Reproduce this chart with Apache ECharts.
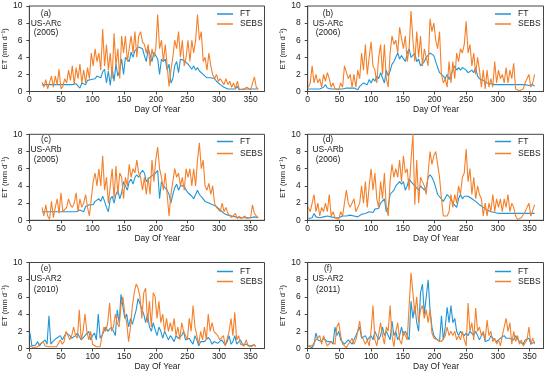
<!DOCTYPE html>
<html><head><meta charset="utf-8">
<script src="https://cdn.jsdelivr.net/npm/echarts@6/dist/echarts.min.js"></script>
<style>html,body{margin:0;padding:0;background:#fff}#c{width:550px;height:375px}</style>
</head><body><div id="c"></div><script>
const daysA=[20,23,26,29,32,35,38,41,44,47,50,53,56,59,62,65,68,71,74,77,80,83,86,89,92,95,98,101,104,107,110,113,116,119,122,125,128,131,134,137,140,143,146,149,152,155,158,161,164,167,170,173,176,179,182,185,188,191,194,197,200,203,206,209,212,215,218,221,224,227,230,233,236,239,242,245,248,251,254,257,260,263,266,269,272,275,278,281,284,287,290,293,296,299,302,305,308,311,314,317,320,323,326,329,332,335,338,341,344,347,350,353,356,359,362];
const daysB=[1,4,7,10,13,16,19,22,25,28,31,34,37,40,43,46,49,52,55,58,61,64,67,70,73,76,79,82,85,88,91,94,97,100,103,106,109,112,115,118,121,124,127,130,133,136,139,142,145,148,151,154,157,160,163,166,169,172,175,178,181,184,187,190,193,196,199,202,205,208,211,214,217,220,223,226,229,232,235,238,241,244,247,250,253,256,259,262,265,268,271,274,277,280,283,286,289,292,295,298,301,304,307,310,313,316,319,322,325,328,331,334,337,340,343,346,349,352,355,358];

const aFT=[0.8,0.8,0.8,0.8,0.8,0.8,0.8,0.8,0.8,0.8,
0.8,0.8,0.8,0.8,0.8,0.8,0.8,0.9,0.9,0.9,
0.4,1.0,1.2,0.8,1.3,1.5,1.4,1.6,1.5,1.8,
2.0,1.6,2.3,2.6,1.0,2.4,0.7,2.8,1.2,3.2,
1.8,2.5,3.8,2.0,4.0,4.2,3.5,4.6,4.0,4.8,
5.0,5.2,5.3,5.0,4.2,3.5,5.0,4.8,3.5,4.6,
4.5,3.8,2.0,3.8,3.5,3.8,2.5,3.2,1.0,1.5,
3.0,3.5,2.2,3.8,4.0,3.6,3.8,3.2,3.3,2.6,
3.0,2.5,2.8,2.4,2.2,2.0,2.0,1.6,1.4,1.6,
1.7,1.5,1.2,1.0,0.8,0.7,0.5,0.4,0.3,0.3,
0.3,0.3,0.3,0.6,0.2,0.2,0.3,0.3,0.3,0.3,
0.3,0.4,0.3,0.3,0.3];
const aSEBS=[1.1,0.5,1.4,0.3,0.1,1.8,0.5,1.8,0.8,2.6,
0.3,0.6,1.5,1.0,2.5,1.3,3.0,0.8,2.8,1.5,
3.2,1.0,2.5,1.0,2.8,1.5,4.5,3.0,5.0,3.5,
4.5,2.5,7.3,3.0,5.5,2.5,4.5,1.5,6.8,3.0,
5.0,1.5,6.5,4.5,6.5,3.5,5.0,6.5,4.5,7.0,
4.0,6.5,7.0,5.8,5.5,4.5,5.5,3.0,5.0,4.0,
5.0,9.0,5.0,6.0,3.5,5.5,3.0,0.6,2.5,4.0,
6.0,5.0,7.0,4.0,6.0,3.0,4.0,6.0,3.5,6.0,
4.5,6.0,9.0,6.0,7.0,3.5,4.0,2.5,4.5,3.0,
2.0,1.5,2.0,1.2,1.5,1.5,0.8,1.5,0.8,1.2,
0.5,1.0,0.3,1.2,0.3,0.5,0.2,0.2,0.5,0.3,
0.2,0.3,1.7,0.5,0.3];

const bFT=[0.3,0.2,0.3,0.4,0.3,0.4,0.3,0.4,0.5,0.8,
0.4,0.3,0.3,0.2,0.3,0.3,0.3,0.4,0.3,0.4,
0.4,0.5,0.4,0.3,0.4,0.5,0.2,0.6,0.8,1.0,
1.2,0.8,1.4,1.0,1.5,1.2,1.8,1.5,2.2,2.0,
1.0,2.5,1.8,2.4,3.2,3.5,4.0,4.5,3.8,4.2,
4.0,3.5,4.5,5.0,4.0,3.8,4.5,3.5,3.8,3.0,
3.2,3.5,4.0,4.2,4.5,4.7,4.2,3.5,2.8,2.2,
2.0,1.8,1.5,2.0,1.4,1.2,2.5,3.0,2.5,2.8,
2.5,2.8,3.0,2.5,2.2,2.0,2.5,2.2,2.8,1.8,
1.5,1.4,1.3,1.2,1.0,1.0,0.9,0.8,0.8,0.8,
0.8,0.8,0.8,0.8,0.8,0.8,0.8,0.8,0.8,0.8,
0.8,0.8,0.8,0.8,0.8,0.8,0.7,0.8,0.8,0.6];
const bSEBS=[0.5,1.0,3.0,1.0,2.0,1.0,1.5,0.5,2.0,1.2,
2.2,1.5,0.5,1.0,0.3,0.5,0.2,1.0,0.5,3.0,
3.2,1.5,2.0,0.5,2.0,0.5,2.5,1.5,4.5,2.5,
5.5,2.0,4.0,5.8,3.0,2.5,1.0,4.0,5.5,2.0,
5.5,1.5,0.5,4.5,6.5,5.5,6.0,4.5,7.5,7.5,
5.0,6.5,3.5,5.0,9.4,6.0,3.5,7.0,4.0,6.5,
3.0,5.0,4.0,3.0,8.5,7.0,8.0,6.0,5.0,7.0,
2.0,1.0,1.5,0.5,3.5,1.0,3.5,1.5,4.5,3.5,
5.0,4.5,5.5,8.2,4.5,5.5,3.0,4.5,2.0,4.0,
2.5,0.5,2.5,0.3,2.5,0.5,1.5,0.5,3.5,1.0,
2.5,1.5,2.0,1.0,2.8,1.0,2.5,1.5,3.3,0.3,
0.1,0.1,0.2,0.3,1.0,1.5,2.0,0.5,1.0,2.0];

const cFT=[1.0,1.0,1.0,1.0,1.0,1.0,1.0,1.0,1.0,1.0,
1.0,1.0,1.0,1.0,1.0,1.0,1.0,1.0,1.0,1.1,
1.2,1.4,1.0,1.6,1.5,1.8,2.0,1.8,2.2,2.0,
2.5,2.2,2.8,2.2,1.5,1.0,2.5,2.8,2.0,3.0,
3.5,2.5,3.2,4.5,4.0,3.5,4.5,4.8,4.2,5.0,
5.3,5.0,5.5,5.8,5.5,4.5,4.8,5.0,5.2,5.0,
5.5,5.8,2.5,4.5,4.0,4.2,3.5,3.0,2.0,3.0,
3.8,4.2,3.5,4.0,3.8,4.0,3.5,3.2,3.0,2.8,
2.5,3.0,3.5,3.0,2.8,2.5,2.2,2.0,2.0,1.9,
1.8,1.7,1.6,1.5,1.2,1.0,0.8,0.7,0.6,0.5,
0.5,0.4,0.4,0.3,0.3,0.3,0.3,0.3,0.3,0.3,
0.3,0.3,0.4,0.3,0.3];
const cSEBS=[1.5,0.5,1.8,0.5,0.1,2.2,0.3,1.5,2.5,0.8,
3.2,1.0,1.2,1.5,2.5,1.8,1.5,2.0,3.2,1.0,
2.5,1.5,2.0,3.0,1.5,0.5,2.5,4.5,5.5,4.0,
6.0,4.0,7.5,3.5,5.0,2.0,4.0,6.0,2.5,6.3,
3.0,5.5,5.0,2.5,5.0,4.0,6.5,5.0,6.0,5.5,
7.0,5.5,5.0,3.5,5.0,3.0,5.0,3.0,7.0,4.5,
7.0,8.5,6.0,5.0,3.5,5.5,3.0,0.5,3.0,4.5,
6.0,5.0,5.5,4.0,5.0,3.5,6.0,5.0,6.0,4.0,
6.0,4.0,7.0,9.0,6.0,7.0,4.0,3.5,4.3,3.0,
4.0,2.0,1.5,1.5,1.0,2.0,1.0,1.5,0.8,1.0,
0.3,0.5,0.8,0.2,0.5,0.2,0.2,0.5,0.2,0.3,
0.3,1.8,0.8,0.5,0.3];

const dFT=[0.2,0.4,0.3,0.8,0.4,0.5,0.3,0.5,0.4,0.3,
0.5,0.3,0.4,0.2,0.3,0.2,0.3,0.4,0.5,0.4,
0.5,0.4,0.6,0.5,0.5,0.6,0.4,0.5,0.7,0.6,
0.8,0.7,1.0,1.2,0.9,1.3,1.5,1.4,2.0,1.8,
2.5,1.0,1.5,3.0,3.2,3.5,4.0,3.8,4.5,4.2,
4.5,3.5,4.0,4.8,4.5,4.6,4.0,4.2,3.5,4.0,
4.0,3.5,3.8,5.0,5.3,5.0,4.5,3.8,3.0,2.8,
2.5,2.2,2.0,3.0,2.8,2.5,2.0,1.8,1.5,2.5,
3.0,2.5,2.8,3.0,2.8,3.0,2.5,2.5,2.2,2.0,
1.8,1.6,1.5,1.3,1.2,1.1,1.0,1.0,0.9,0.8,
0.8,0.8,0.8,0.8,0.8,0.8,0.8,0.8,0.8,0.8,
0.8,0.8,0.8,0.8,0.8,0.8,0.8,0.8,0.8,0.8];
const dSEBS=[1.5,1.0,2.0,3.0,1.0,2.0,0.5,1.5,1.0,2.0,
1.0,3.0,0.5,1.0,0.3,0.5,0.1,1.0,0.5,2.0,
3.5,2.0,1.5,1.5,2.5,1.0,1.0,2.0,4.0,2.0,
4.5,1.5,4.0,6.0,3.5,5.5,2.5,1.5,4.5,2.5,
5.5,1.5,0.5,4.5,6.5,5.0,6.0,5.0,7.0,4.5,
7.5,5.5,6.0,3.5,7.0,10.0,1.8,7.0,2.0,5.0,
4.5,4.0,3.0,5.5,8.0,6.5,7.5,8.0,6.5,5.0,
2.5,0.5,0.3,0.5,1.0,3.0,1.5,3.0,2.0,4.0,
3.0,5.0,5.5,8.3,4.5,6.0,3.0,5.0,2.5,4.0,
3.0,2.5,0.5,2.0,0.5,2.0,1.0,3.0,1.0,2.5,
1.5,2.5,1.0,2.5,1.5,3.0,1.0,2.0,1.5,0.5,
0.1,0.2,0.3,0.5,1.0,1.5,2.0,0.5,0.3,1.8];

const eFT=[1.8,0.3,0.3,0.4,0.8,0.3,0.6,0.8,1.0,0.5,
3.8,0.5,0.8,1.0,1.2,1.0,1.5,1.0,1.2,1.8,
2.0,1.5,1.2,1.0,1.5,1.8,1.6,1.0,1.2,1.5,
1.5,2.0,1.0,1.5,1.8,1.0,4.0,1.2,1.5,2.0,
2.5,2.0,2.2,2.5,2.0,1.5,4.5,3.0,6.3,6.3,
3.5,4.0,2.5,3.5,2.8,3.0,4.5,5.8,5.2,5.0,
4.0,3.0,4.0,2.5,2.0,3.0,2.2,1.5,2.5,2.0,
1.2,2.0,1.5,1.0,1.5,1.2,0.8,1.5,1.2,1.0,
1.5,2.0,1.0,0.8,1.2,0.8,0.5,1.5,1.0,0.3,
0.8,1.0,0.8,0.8,1.3,1.0,0.5,0.8,1.0,0.6,
0.8,1.0,0.8,0.4,0.8,1.5,0.5,0.8,1.5,0.5,
0.6,1.0,0.5,0.3,0.5,0.4,0.3,0.5,0.4,0.3];
const eSEBS=[0.3,0.2,0.1,0.3,0.2,0.5,0.3,0.8,0.3,0.2,
0.2,0.1,0.2,0.3,0.2,0.2,1.0,0.5,0.8,2.0,
2.0,1.0,1.5,2.5,1.5,1.2,4.5,1.0,2.0,4.0,
2.0,1.0,2.0,0.5,0.3,0.2,0.3,0.2,1.5,2.5,
2.0,3.0,5.3,2.0,2.5,4.0,3.0,2.5,5.0,6.0,
4.0,3.0,0.8,2.5,5.0,6.5,7.5,7.0,6.0,3.5,
6.5,7.0,3.0,5.5,2.5,6.5,6.0,3.5,5.5,3.0,
4.0,2.0,3.5,2.0,3.0,2.0,3.5,1.5,2.5,1.0,
3.0,2.0,1.5,1.0,3.5,2.0,5.0,2.5,1.5,0.5,
2.0,1.0,2.5,1.0,4.0,2.0,3.0,2.0,2.0,1.5,
1.0,1.0,1.5,0.3,0.5,2.0,3.5,1.5,4.2,1.0,
1.5,0.5,0.5,0.3,1.0,0.3,0.5,0.2,0.5,0.2];

const fFT=[0.3,0.2,0.1,0.5,1.8,1.0,0.8,0.8,1.2,1.0,
0.8,1.0,0.8,0.5,2.5,1.5,2.0,1.0,0.8,0.5,
0.6,1.0,0.8,0.5,1.0,1.2,2.0,2.5,1.2,1.0,
1.5,1.0,0.8,1.5,1.0,2.0,1.5,1.0,1.5,2.5,
1.5,2.0,2.2,1.0,3.2,1.5,2.0,1.0,1.5,2.5,
1.5,2.0,1.5,1.0,5.5,3.5,5.0,3.0,2.0,6.5,
7.5,4.0,6.0,8.0,4.5,2.5,1.5,1.2,1.0,0.8,
3.8,1.0,2.5,4.8,3.0,5.0,3.0,3.5,2.0,1.5,
2.0,1.8,1.5,1.8,1.5,2.0,1.8,1.5,2.0,1.5,
1.0,1.5,1.8,0.8,1.0,1.0,1.5,1.2,1.0,0.8,
0.8,1.2,1.0,1.5,1.2,1.0,1.2,1.0,1.0,1.5,
1.5,0.8,0.8,0.5,1.0,0.8,1.2,0.5,0.5,0.8];
const fSEBS=[0.3,0.5,0.3,0.2,1.0,0.8,1.5,0.5,1.5,0.8,
0.3,0.5,0.8,1.0,0.5,2.5,3.0,1.5,0.5,0.3,
0.1,0.5,0.3,1.2,0.5,1.0,2.0,3.2,1.5,1.0,
0.5,1.0,0.3,2.0,5.0,1.0,0.3,0.2,3.0,1.5,
0.5,2.5,2.0,5.0,1.5,0.2,2.0,3.0,1.0,0.5,
2.0,2.0,1.0,0.8,8.8,6.5,4.0,6.0,3.0,4.5,
5.0,3.5,4.5,3.0,4.5,1.8,1.2,1.0,1.0,0.8,
0.8,0.8,1.5,2.5,1.5,2.0,1.5,2.0,1.0,1.5,
1.0,2.0,1.0,0.3,5.3,2.0,3.0,1.0,4.7,2.0,
2.5,1.5,2.0,1.0,3.3,1.5,2.0,0.8,1.2,0.5,
1.0,0.3,1.5,1.5,3.5,2.0,3.0,0.5,2.0,0.8,
1.5,0.5,1.0,0.3,0.3,1.0,2.5,0.5,1.2,0.5];

const xTicks=[0,50,100,150,200,250,300,350];
const panelTags=['(a)','(b)','(c)','(d)','(e)','(f)'];
const siteNames=['US-ARc','US-ARc','US-ARb','US-ARb','US-AR2','US-AR2'];
const yearNames=['(2005)','(2006)','(2005)','(2006)','(2010)','(2011)'];
const seriesNames=['FT','SEBS'];

const panels=[
 {days:daysA, ft:aFT, sebs:aSEBS},
 {days:daysB, ft:bFT, sebs:bSEBS},
 {days:daysA, ft:cFT, sebs:cSEBS},
 {days:daysB, ft:dFT, sebs:dSEBS},
 {days:daysB, ft:eFT, sebs:eSEBS},
 {days:daysB, ft:fFT, sebs:fSEBS}
];

const FONT="'Liberation Sans', Arial, sans-serif";
const TXT='#1a1a1a';
const COL_FT='#2196d6', COL_SEBS='#f5802a';
const colLeft=[26.5,307.7], colW=[238,235.8];
const rowTop=[6,134.3,262.5], rowH=[85.5,86,86];
const legTop=[9,136.5,266.5], legGap=[0,2,0];
const annoY=[[14,24,33],[140,150,160],[269,279,290]];
const annoX=[46,328];
const legLeft=[217,495];

const grid=[],xAxis=[],yAxis=[],series=[],legend=[],graphic=[];
const pair=(d,v)=>d.slice(0,v.length).map((x,i)=>[x,v[i]]);
panels.forEach((p,i)=>{
  const r=Math.floor(i/2), c=i%2;
  grid.push({left:colLeft[c],top:rowTop[r],width:colW[c],height:rowH[r],show:true,borderColor:'#444',borderWidth:1,backgroundColor:'transparent'});
  xAxis.push({type:'value',gridIndex:i,min:0,max:372,interval:50,
    axisLine:{show:true,onZero:false,lineStyle:{color:'#444',width:1}},
    axisTick:{show:true,length:3,customValues:xTicks,lineStyle:{color:'#444'}},
    axisLabel:{fontSize:8.5,margin:4,color:TXT,fontFamily:FONT,customValues:xTicks},
    splitLine:{show:false},
    name:'Day Of Year',nameLocation:'middle',nameGap:13.5,
    nameTextStyle:{fontSize:8.5,color:TXT,fontFamily:FONT,padding:[0,0,0,21]}});
  yAxis.push({type:'value',gridIndex:i,min:0,max:10,interval:2,
    axisLine:{show:true,lineStyle:{color:'#444',width:1}},
    axisTick:{show:true,length:3,lineStyle:{color:'#444'}},
    axisLabel:{fontSize:8.5,margin:7,color:TXT,fontFamily:FONT},
    splitLine:{show:false},
    name:'ET (mm d\u207B\u00B9)',nameLocation:'middle',nameRotate:90,nameGap:15,
    nameTextStyle:{fontSize:7.5,color:TXT,fontFamily:FONT}});
  series.push({name:seriesNames[0],type:'line',xAxisIndex:i,yAxisIndex:i,data:pair(p.days,p.ft),
    symbol:'none',showSymbol:false,lineStyle:{width:1.1,color:COL_FT},itemStyle:{color:COL_FT},z:2});
  series.push({name:seriesNames[1],type:'line',xAxisIndex:i,yAxisIndex:i,data:pair(p.days,p.sebs),
    symbol:'none',showSymbol:false,lineStyle:{width:1.1,color:COL_SEBS},itemStyle:{color:COL_SEBS},z:3});
  legend.push({data:seriesNames,orient:'vertical',left:legLeft[c],top:legTop[r],padding:0,
    icon:'rect',itemWidth:16,itemHeight:1.5,itemGap:legGap[r],selectedMode:false,
    textStyle:{fontSize:8.5,color:TXT,fontFamily:FONT,lineHeight:10,padding:[0,0,0,2]}});
  [panelTags[i],siteNames[i],yearNames[i]].forEach((t,k)=>{
    graphic.push({type:'text',x:annoX[c],y:annoY[r][k],
      style:{text:t,align:'center',verticalAlign:'middle',fontSize:8.5,fill:TXT,fontFamily:FONT}});
  });
});

const chart=echarts.init(document.getElementById('c'),null,{renderer:'canvas'});
chart.setOption({animation:false,backgroundColor:'#fff',textStyle:{fontFamily:FONT},
  grid,xAxis,yAxis,series,legend,graphic});
</script></body></html>
